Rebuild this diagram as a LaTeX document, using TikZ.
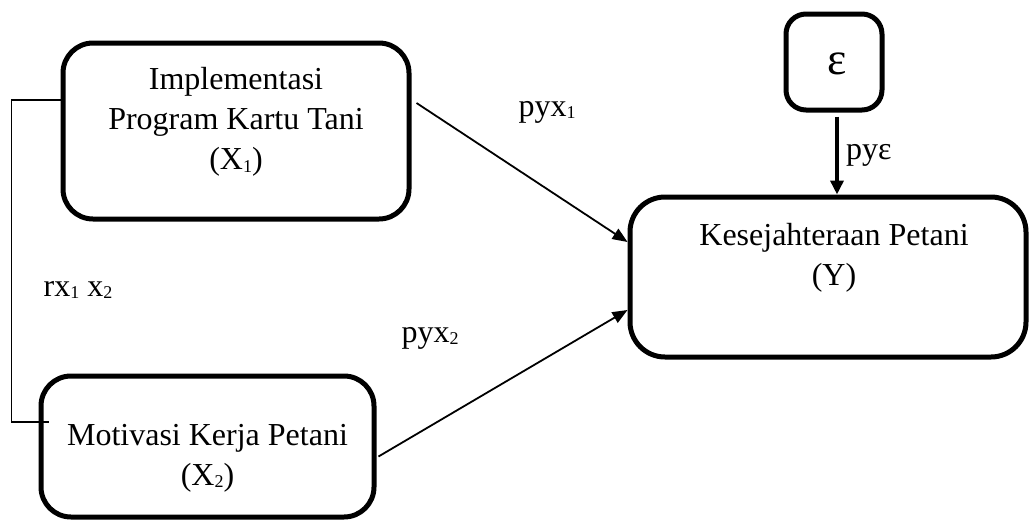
\documentclass[tikz,border=0pt]{standalone}
\usepackage{fontspec}
\setmainfont{Liberation Serif}
\usetikzlibrary{arrows.meta}
\newcommand\mysub[1]{\raisebox{-2.5pt}{\fontsize{18}{18}\selectfont #1}}
\tikzset{
  box/.style={draw, line width=5pt, rounded corners=30pt, inner sep=0pt},
  txt/.style={align=center, font=\fontsize{32}{40}\selectfont, inner sep=0pt},
  lbl/.style={font=\fontsize{32}{38}\selectfont, inner sep=0pt},
  arr/.style={line width=1.8pt, -{Triangle[length=15pt,width=12pt]}},
  thickarr/.style={line width=3.5pt, -{Triangle[length=14pt,width=13pt]}},
  corr/.style={line width=1.6pt}
}
\begin{document}
\begin{tikzpicture}[x=1pt,y=-1pt]
\useasboundingbox (0,0) rectangle (1029,520);
% boxes
\node[box, minimum width=346pt, minimum height=176pt] (X1) at (236,131) {};
\node[txt] (X1t) at (236,122) {Implementasi\\Program Kartu Tani\\(X\mysub{1})};
\node[box, minimum width=333pt, minimum height=141pt] (X2) at (207.5,446.5) {};
\node[txt] (X2t) at (207.5,458) {Motivasi Kerja Petani\\(X\mysub{2})};
\node[box, rounded corners=35pt, minimum width=396pt, minimum height=160pt] (Y) at (828,277) {};
\node[txt] (Yt) at (834,258) {Kesejahteraan Petani\\(Y)};
\node[box, rounded corners=20pt, minimum width=96pt, minimum height=96pt] (E) at (834,62) {};
\node[txt, font=\fontsize{46}{46}\selectfont] (Et) at (837,64) {ε};
% connectors
\draw[arr] ([xshift=5pt,yshift=28pt]X1.east) -- ([yshift=35pt]Y.west);
\draw[arr] ([xshift=2pt,yshift=-10pt]X2.east) -- ([yshift=-33pt]Y.west);
\draw[thickarr] ([xshift=3pt,yshift=-4pt]E.south) -- ([xshift=9pt]Y.north);
\draw[corr] ([yshift=31pt]X1.west) -- ++(-49,0) |- ([xshift=10pt,yshift=24.5pt]X2.west);
% labels
\node[lbl] (l1) at (547,112) {pyx\mysub{1}};
\node[lbl] (l2) at (430,338) {pyx\mysub{2}};
\node[lbl, anchor=west] (l3) at (846,155) {pyε};
\node[lbl] (l4) at (78,290) {rx\mysub{1} x\mysub{2}};
\end{tikzpicture}
\end{document}
